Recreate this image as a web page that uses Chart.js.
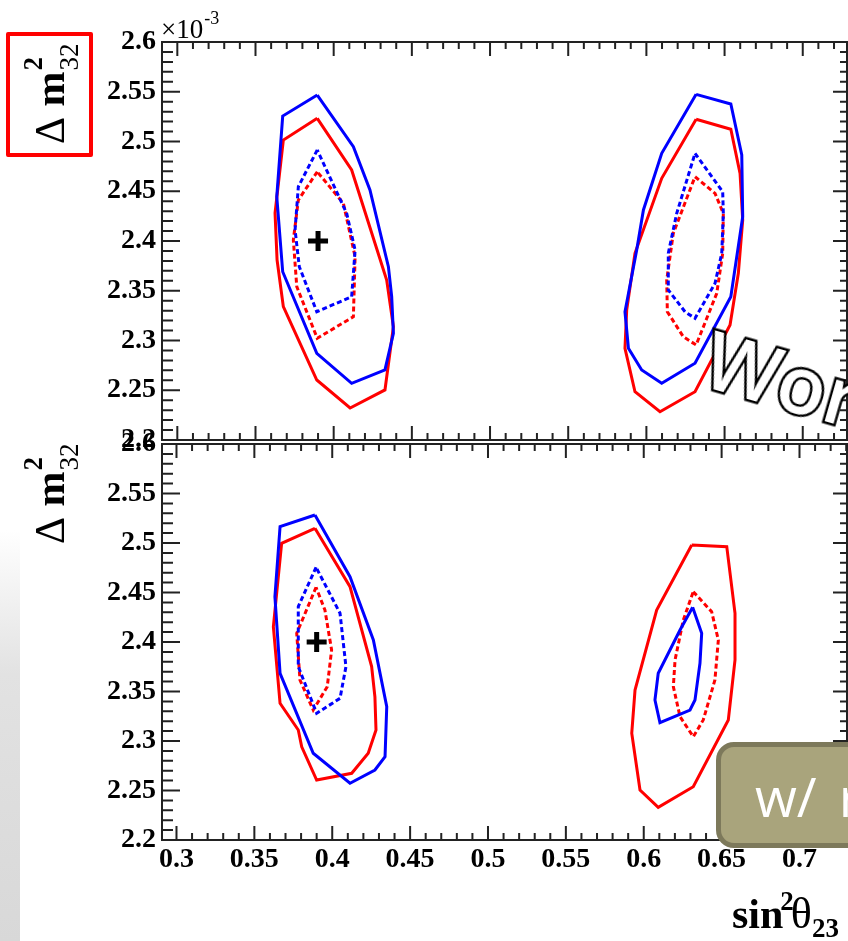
<!DOCTYPE html>
<html>
<head>
<meta charset="utf-8">
<script src="https://cdn.jsdelivr.net/npm/chart.js@4.4.0/dist/chart.umd.min.js"></script>
<style>
  html, body { margin: 0; padding: 0; background: #fff; overflow: hidden; }
  #wrap { position: relative; width: 848px; height: 941px; overflow: hidden; background: #fff; }
  #wrap canvas { position: absolute; left: 0; top: 0; }
  #edge { position: absolute; left: 0; top: 530px; width: 20px; height: 411px;
          background: linear-gradient(to bottom, rgba(222,222,222,0), #e2e2e2 35%, #d8d8d8); }
  #redbox { position: absolute; left: 6px; top: 32px; width: 87px; height: 125px;
            border: 4px solid #ff0000; border-radius: 2px; box-sizing: border-box; }
  #wor { position: absolute; left: 714px; top: 317px; font: 600 80px "Open Sans"; line-height: 1;
         color: #fff; -webkit-text-stroke: 5px #000; paint-order: stroke fill; white-space: nowrap;
         transform-origin: 3px 15px; transform: rotate(16deg); }
  #note { position: absolute; left: 716px; top: 742px; width: 200px; height: 106px;
          background: #a9a47c; border: 5px solid #7d795b; border-radius: 18px; box-sizing: border-box;
          color: #fff; font: 54px "Open Sans"; line-height: 1; padding: 22px 0 0 34px; white-space: nowrap;
          word-spacing: 8px; }
</style>
</head>
<body>
<div id="wrap">
  <div id="edge"></div>
  <canvas id="topChart" width="848" height="941"></canvas>
  <canvas id="botChart" width="848" height="941"></canvas>
  <div id="redbox"></div>
  <div id="wor">Wor</div>
  <div id="note">w/ r</div>
</div>
<script>
// contours, [sin^2 theta23, dm2_32 (x1e-3)]
// solid = outer contour, dashed = inner contour
const topBlueOuterL = [[0.3895,2.5467],[0.3674,2.5256],[0.3636,2.4445],[0.3674,2.3691],[0.3892,2.2871],[0.4115,2.2570],[0.4328,2.2704],[0.4382,2.3072],[0.4371,2.3440],[0.4350,2.3742],[0.4232,2.4513],[0.4126,2.4948]];
const topRedOuterL = [[0.3895,2.5233],[0.3678,2.5015],[0.3625,2.4281],[0.3638,2.3809],[0.3678,2.3340],[0.3892,2.2603],[0.4105,2.2322],[0.4328,2.2503],[0.4382,2.3139],[0.4339,2.3608],[0.4115,2.4714]];
const topBlueInnerL = [[0.3895,2.4915],[0.3774,2.4546],[0.3753,2.4111],[0.3780,2.3742],[0.3892,2.3289],[0.4115,2.3440],[0.4137,2.3910],[0.4083,2.4278]];
const topRedInnerL = [[0.3895,2.4696],[0.3774,2.4412],[0.3742,2.4010],[0.3764,2.3541],[0.3895,2.3022],[0.4126,2.3239],[0.4137,2.3842],[0.4062,2.4379]];

const topBlueOuterR = [[0.6318,2.5474],[0.6540,2.5377],[0.6610,2.4864],[0.6616,2.4244],[0.6540,2.3440],[0.6311,2.2771],[0.6098,2.2570],[0.5970,2.2704],[0.5885,2.2922],[0.5863,2.3289],[0.5938,2.3910],[0.5981,2.4312],[0.6098,2.4881]];
const topRedOuterR = [[0.6318,2.5223],[0.6540,2.5123],[0.6599,2.4680],[0.6616,2.4211],[0.6588,2.3675],[0.6535,2.3156],[0.6311,2.2485],[0.6087,2.2284],[0.5927,2.2485],[0.5863,2.2922],[0.5874,2.3307],[0.5927,2.3876],[0.6098,2.4630]];
const topBlueInnerR = [[0.6311,2.4881],[0.6488,2.4496],[0.6492,2.4278],[0.6482,2.3876],[0.6439,2.3575],[0.6311,2.3223],[0.6247,2.3289],[0.6140,2.3508],[0.6140,2.3876],[0.6194,2.4278]];
const topRedInnerR = [[0.6311,2.4646],[0.6439,2.4479],[0.6492,2.4278],[0.6488,2.3876],[0.6450,2.3474],[0.6318,2.2955],[0.6236,2.3038],[0.6134,2.3289],[0.6130,2.3608],[0.6172,2.4077]];

const botBlueOuterL = [[0.3889,2.5283],[0.3665,2.5165],[0.3632,2.4458],[0.3665,2.3684],[0.3878,2.2876],[0.4114,2.2573],[0.4274,2.2707],[0.4339,2.2841],[0.4350,2.3347],[0.4264,2.4020],[0.4114,2.4660]];
const botRedOuterL = [[0.3889,2.5148],[0.3675,2.4997],[0.3622,2.4155],[0.3665,2.3381],[0.3782,2.3111],[0.3804,2.2942],[0.3900,2.2606],[0.4125,2.2674],[0.4231,2.2876],[0.4281,2.3111],[0.4274,2.3447],[0.4253,2.3751],[0.4114,2.4559]];
const botBlueInnerL = [[0.3896,2.4755],[0.3782,2.4357],[0.3782,2.3751],[0.3900,2.3280],[0.4050,2.3431],[0.4088,2.3751],[0.4050,2.4290]];
const botRedInnerL = [[0.3896,2.4553],[0.3772,2.4088],[0.3793,2.3616],[0.3878,2.3313],[0.3968,2.3549],[0.3996,2.3919],[0.3953,2.4323]];

const botRedOuterR = [[0.6308,2.4980],[0.6533,2.4963],[0.6586,2.4290],[0.6586,2.3818],[0.6543,2.3212],[0.6318,2.2538],[0.6093,2.2330],[0.5976,2.2505],[0.5923,2.3078],[0.5944,2.3515],[0.6083,2.4323]];
const botBlueOuterR = [[0.6314,2.4351],[0.6372,2.4088],[0.6361,2.3785],[0.6329,2.3414],[0.6297,2.3313],[0.6104,2.3185],[0.6072,2.3414],[0.6093,2.3684],[0.6233,2.4121]];
const botRedInnerR = [[0.6318,2.4508],[0.6436,2.4306],[0.6479,2.4020],[0.6457,2.3616],[0.6382,2.3212],[0.6318,2.3043],[0.6233,2.3246],[0.6190,2.3549],[0.6201,2.3818],[0.6254,2.4222]];

const bestFit = [0.39, 2.40];

const yTicks = [2.2, 2.25, 2.3, 2.35, 2.4, 2.45, 2.5, 2.55, 2.6];
const xTicks = [0.3, 0.35, 0.4, 0.45, 0.5, 0.55, 0.6, 0.65, 0.7];
const topXRange = [0.2902, 0.7283];
const botXRange = [0.2907, 0.7305];

const BLUE = '#0000ff', RED = '#ff0000';
const tickFont = { family: '"Liberation Serif", serif', size: 28, weight: 'bold' };

function contour(pts, color, dashed) {
    return {
        data: pts.concat([pts[0]]).map(p => ({ x: p[0], y: p[1] })),
        showLine: true,
        borderColor: color,
        borderWidth: 3,
        borderDash: dashed ? [5, 3] : [],
        pointRadius: 0,
        fill: false,
        tension: 0
    };
}

function marker() {
    return {
        data: [{ x: bestFit[0], y: bestFit[1] }],
        pointStyle: 'cross',
        pointRadius: 10,
        borderWidth: 5,
        borderColor: '#000',
        showLine: false
    };
}

function fmt(v) { return String(Math.round(v * 100) / 100); }

// ROOT style frame with ticks pointing inward on all four sides
const frameTicks = {
    id: 'frameTicks',
    afterDatasetsDraw(chart) {
        const { ctx, chartArea: a, scales: { x, y } } = chart;
        ctx.save();
        ctx.strokeStyle = '#222';
        ctx.lineWidth = 2;
        ctx.beginPath();
        for (let i = Math.ceil(x.min * 100); i <= Math.floor(x.max * 100); i++) {
            const px = x.getPixelForValue(i / 100);
            const len = i % 5 === 0 ? 14 : 7;
            ctx.moveTo(px, a.bottom); ctx.lineTo(px, a.bottom - len);
            ctx.moveTo(px, a.top); ctx.lineTo(px, a.top + len);
        }
        for (let i = Math.ceil(y.min * 100); i <= Math.floor(y.max * 100); i++) {
            const py = y.getPixelForValue(i / 100);
            const major = i % 5 === 0;
            ctx.moveTo(a.left, py); ctx.lineTo(a.left + (major ? 18 : 11), py);
            ctx.moveTo(a.right, py); ctx.lineTo(a.right - (major ? 14 : 7), py);
        }
        ctx.stroke();
        ctx.strokeRect(a.left, a.top, a.right - a.left, a.bottom - a.top);
        ctx.restore();
    }
};

function drawYTitle(ctx, x0, y0) {
    ctx.save();
    ctx.translate(x0, y0);
    ctx.rotate(-Math.PI / 2);
    ctx.fillStyle = '#000';
    ctx.textBaseline = 'alphabetic';
    ctx.font = '42px "Liberation Serif"';
    ctx.fillText('Δ', 0, 0);
    let w = ctx.measureText('Δ ').width;
    ctx.font = 'bold 42px "Liberation Serif"';
    ctx.fillText('m', w, 0);
    w += ctx.measureText('m').width + 1;
    ctx.font = 'bold 27px "Liberation Serif"';
    ctx.fillText('2', w, -22);
    ctx.font = '27px "Liberation Serif"';
    ctx.fillText('32', w, 14);
    ctx.restore();
}

const titles = {
    id: 'titles',
    afterDraw(chart, args, opts) {
        const ctx = chart.ctx;
        const a = chart.chartArea;
        if (opts.which === 'top') {
            ctx.save();
            ctx.fillStyle = '#000';
            ctx.font = '27px "Liberation Serif"';
            ctx.fillText('×10', a.left - 1, 38);
            const w = ctx.measureText('×10').width;
            ctx.font = '18px "Liberation Serif"';
            ctx.fillText('-3', a.left + w, 24);
            ctx.restore();
            drawYTitle(ctx, 64, 144);
        } else {
            drawYTitle(ctx, 64, 544);
            ctx.save();
            ctx.fillStyle = '#000';
            let x = 732;
            ctx.font = 'bold 42px "Liberation Serif"';
            ctx.fillText('sin', x, 928);
            x += ctx.measureText('sin').width;
            ctx.font = 'bold 27px "Liberation Serif"';
            ctx.fillText('2', x - 3, 910);
            x += ctx.measureText('2').width - 6;
            ctx.font = '44px "Liberation Serif"';
            ctx.fillText('θ', x, 928);
            x += ctx.measureText('θ').width;
            ctx.font = 'bold 27px "Liberation Serif"';
            ctx.fillText('23', x, 937);
            ctx.restore();
        }
    }
};

function makeChart(id, which, datasets, xRange, padding, showX) {
    return new Chart(document.getElementById(id).getContext('2d'), {
        type: 'scatter',
        data: { datasets: datasets },
        options: {
            responsive: false,
            animation: false,
            events: [],
            layout: { padding: padding, autoPadding: false },
            plugins: { legend: { display: false }, tooltip: { enabled: false }, titles: { which: which } },
            scales: {
                x: {
                    type: 'linear',
                    min: xRange[0],
                    max: xRange[1],
                    display: showX,
                    afterFit: s => {
                        if (showX) s.height = 40;
                        s.paddingLeft = 0; s.paddingRight = 0;
                    },
                    afterBuildTicks: s => { s.ticks = xTicks.map(v => ({ value: v })); },
                    grid: { display: false, drawTicks: false },
                    border: { display: false },
                    ticks: { font: tickFont, color: '#000', padding: 3, maxRotation: 0, autoSkip: false, callback: fmt }
                },
                y: {
                    type: 'linear',
                    min: 2.2,
                    max: 2.6,
                    afterFit: s => { s.width = 162; s.paddingTop = 0; s.paddingBottom = 0; },
                    afterBuildTicks: s => { s.ticks = yTicks.map(v => ({ value: v })); },
                    grid: { display: false, drawTicks: false },
                    border: { display: false },
                    ticks: { font: tickFont, color: '#000', padding: 6, autoSkip: false, callback: fmt }
                }
            }
        },
        plugins: [frameTicks, titles]
    });
}

makeChart('topChart', 'top', [
    contour(topBlueOuterL, BLUE, false),
    contour(topRedOuterL, RED, false),
    contour(topBlueInnerL, BLUE, true),
    contour(topRedInnerL, RED, true),
    contour(topBlueOuterR, BLUE, false),
    contour(topRedOuterR, RED, false),
    contour(topBlueInnerR, BLUE, true),
    contour(topRedInnerR, RED, true),
    marker()
], topXRange, { top: 42, right: 1, bottom: 501, left: 0 }, false);

makeChart('botChart', 'bottom', [
    contour(botBlueOuterL, BLUE, false),
    contour(botRedOuterL, RED, false),
    contour(botBlueInnerL, BLUE, true),
    contour(botRedInnerL, RED, true),
    contour(botRedOuterR, RED, false),
    contour(botBlueOuterR, BLUE, false),
    contour(botRedInnerR, RED, true),
    marker()
], botXRange, { top: 444, right: 1, bottom: 61, left: 0 }, true);
</script>
</body>
</html>
